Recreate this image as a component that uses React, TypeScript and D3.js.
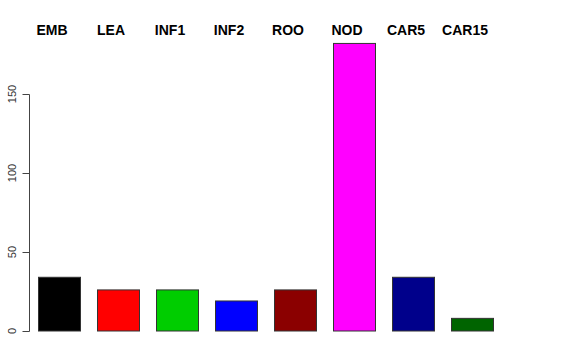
import React from "react";
import * as d3 from "d3";

const categories = ["EMB", "LEA", "INF1", "INF2", "ROO", "NOD", "CAR5", "CAR15"];
const values = [34, 26, 26, 19, 26, 182, 34, 8];
const colors = ["#000000", "#FF0000", "#00CD00", "#0000FF", "#8B0000", "#FF00FF", "#00008B", "#006400"];
const yTicks = [0, 50, 100, 150];

const W = 576;
const H = 360;

export default function App() {
  const x = d3
    .scaleBand<string>()
    .domain(categories)
    .range([38.5, 493.5])
    .paddingInner(17 / 59)
    .paddingOuter(0);
  const y = d3.scaleLinear().domain([0, 150]).range([331, 94]);
  const axisX = 29.5;
  const font = "'Liberation Sans', Arial, Helvetica, sans-serif";

  return (
    <svg
      width={W}
      height={H}
      style={{ position: "absolute", left: 0, top: 0, background: "#fff" }}
    >
      {categories.map((c, i) => (
        <rect
          key={c}
          x={x(c)}
          y={y(values[i])}
          width={x.bandwidth()}
          height={y(0) - y(values[i])}
          fill={colors[i]}
          stroke="#333"
          strokeWidth={1}
        />
      ))}
      {categories.map((c) => (
        <text
          key={"l" + c}
          x={(x(c) as number) + x.bandwidth() / 2 - 7.5}
          y={34.5}
          textAnchor="middle"
          fontFamily={font}
          fontWeight="bold"
          fontSize={14}
          fill="#000"
        >
          {c}
        </text>
      ))}
      <line
        x1={axisX}
        x2={axisX}
        y1={y(0) + 0.5}
        y2={y(150) + 0.5}
        stroke="#444"
        strokeWidth={1}
      />
      {yTicks.map((t) => (
        <g key={t}>
          <line
            x1={axisX - 7}
            x2={axisX}
            y1={Math.round(y(t)) + 0.5}
            y2={Math.round(y(t)) + 0.5}
            stroke="#444"
            strokeWidth={1}
          />
          <text
            transform={`translate(15.5,${y(t)}) rotate(-90)`}
            textAnchor="middle"
            fontFamily={font}
            fontSize={11}
            fill="#333"
          >
            {t}
          </text>
        </g>
      ))}
    </svg>
  );
}
